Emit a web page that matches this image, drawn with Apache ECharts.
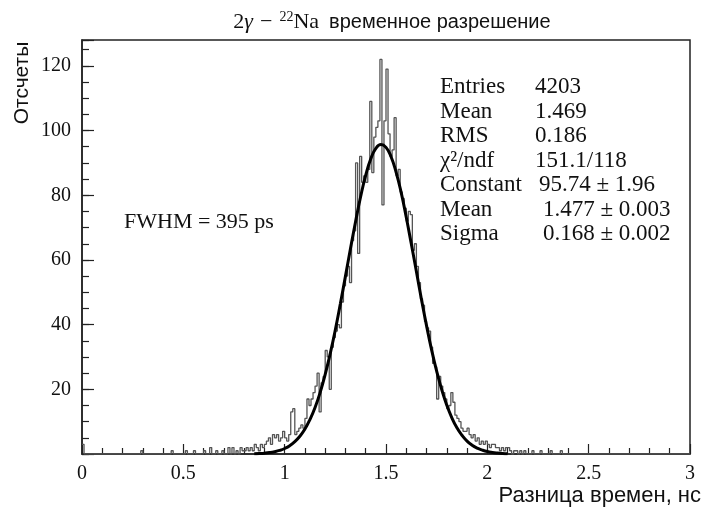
<!DOCTYPE html>
<html>
<head>
<meta charset="utf-8">
<script src="https://cdn.jsdelivr.net/npm/echarts@6/dist/echarts.min.js"></script>
<style>
  html, body { margin: 0; padding: 0; background: #fff; }
  #chart { width: 704px; height: 508px; }
</style>
</head>
<body>
<div id="chart"></div>
<script>
// histogram: 300 bins of 0.01 ns from 0 to 3
const binStart = 0;
const binWidth = 0.01;
const counts = [
  3, 0, 0, 0, 0, 0, 0, 0, 0, 0,
  0, 0, 0, 0, 0, 0, 0, 0, 0, 0,
  0, 0, 0, 0, 0, 0, 0, 0, 0, 1,
  0, 0, 0, 0, 0, 0, 0, 0, 0, 0,
  0, 0, 0, 0, 1, 0, 0, 0, 0, 0,
  0, 1, 0, 0, 0, 1, 0, 0, 0, 0,
  1, 0, 0, 2, 0, 0, 1, 0, 0, 1,
  0, 0, 2, 0, 2, 0, 1, 0, 2, 1,
  1, 2, 1, 2, 1, 3, 2, 1, 3, 2,
  3, 4, 5, 3, 6, 5, 6, 4, 5, 7,
  5, 4, 6, 13, 14, 6, 7, 8, 9, 8,
  11, 17, 15, 17, 19, 21, 25, 13, 22, 24,
  32, 30, 20, 33, 36, 38, 40, 39, 47, 52,
  55, 58, 53, 66, 69, 90, 62, 92, 84, 86,
  84, 88, 109, 87, 98, 101, 103, 122, 77, 103,
  119, 99, 92, 94, 104, 86, 88, 81, 79, 76,
  72, 75, 74, 63, 65, 58, 53, 48, 46, 41,
  39, 38, 33, 28, 27, 17, 24, 21, 19, 17,
  14, 15, 19, 16, 12, 11, 10, 8, 7, 7,
  8, 6, 5, 6, 4, 5, 3, 4, 3, 4,
  3, 2, 3, 3, 2, 2, 1, 2, 1, 2,
  2, 1, 0, 1, 1, 0, 1, 0, 1, 0,
  0, 0, 1, 0, 0, 0, 1, 0, 0, 0,
  0, 1, 0, 0, 0, 0, 1, 0, 0, 0,
  0, 0, 0, 0, 0, 0, 0, 0, 0, 0,
  0, 0, 0, 0, 0, 0, 0, 0, 0, 0,
  0, 0, 0, 0, 0, 0, 0, 0, 0, 0,
  0, 0, 0, 0, 0, 0, 0, 0, 0, 0,
  0, 0, 0, 0, 0, 0, 0, 0, 0, 0,
  0, 0, 0, 0, 0, 0, 0, 0, 0, 0
];

// fitted curve
const fitX = [0.85, 0.875, 0.9, 0.925, 0.95, 0.975, 1.0, 1.025, 1.05, 1.075, 1.1, 1.125, 1.15, 1.175,
  1.2, 1.225, 1.25, 1.275, 1.3, 1.325, 1.35, 1.375, 1.4, 1.425, 1.45, 1.475, 1.5, 1.525, 1.55,
  1.575, 1.6, 1.625, 1.65, 1.675, 1.7, 1.725, 1.75, 1.775, 1.8, 1.825, 1.85, 1.875, 1.9, 1.925,
  1.95, 1.975, 2.0, 2.025, 2.05, 2.075, 2.1];
const fitY = [0.09, 0.16, 0.26, 0.43, 0.7, 1.1, 1.7, 2.57, 3.8, 5.47, 7.7, 10.7, 14.4, 19.0,
  24.6, 31.1, 38.4, 46.5, 55.0, 63.6, 71.9, 79.6, 86.2, 91.3, 94.5, 95.7, 94.8, 91.9, 87.1,
  80.8, 73.2, 64.9, 56.4, 47.8, 39.7, 32.2, 25.6, 19.9, 15.1, 11.2, 8.1, 5.8, 4.0, 2.7,
  1.8, 1.2, 0.75, 0.47, 0.29, 0.17, 0.1];

const titleMain = '2';
const titleGamma = 'γ';
const titleMinus = '−';
const titleSup = '22';
const titleNa = 'Na';
const titleRu = 'временное разрешение';
const xName = 'Разница времен, нс';
const yName = 'Отсчеты';
const fwhmText = 'FWHM = 395 ps';
const statNames = ['Entries', 'Mean', 'RMS', 'χ²/ndf', 'Constant', 'Mean', 'Sigma'];
const statValues = ['4203', '1.469', '0.186', '151.1/118', '95.74 ± 1.96', '1.477 ± 0.003', '0.168 ± 0.002'];

const serif = '"Liberation Serif", "DejaVu Serif", serif';
const sans = '"Liberation Sans", Arial, sans-serif';

const histData = counts.map((c, i) => [binStart + i * binWidth, c]);
histData.push([binStart + counts.length * binWidth, counts[counts.length - 1]]);
const fitData = fitX.map((x, i) => [x, fitY[i]]);

const valueX = [535, 535, 535, 535, 539, 543, 543];
const graphics = [
  {
    type: 'text', x: 22, y: 83, rotation: Math.PI / 2,
    style: { text: yName, font: '21px ' + sans, fill: '#111', textAlign: 'center', textVerticalAlign: 'middle' }
  },
  {
    type: 'text', x: 701, y: 496,
    style: { text: xName, font: '22px ' + sans, fill: '#111', textAlign: 'right', textVerticalAlign: 'middle' }
  },
  {
    type: 'text', x: 124, y: 222,
    style: { text: fwhmText, font: '22px ' + serif, fill: '#111', textAlign: 'left', textVerticalAlign: 'middle' }
  }
];
statNames.forEach((n, i) => {
  graphics.push({
    type: 'text', x: 440, y: 87 + i * 24.5,
    style: { text: n, font: '23px ' + serif, fill: '#111', textAlign: 'left', textVerticalAlign: 'middle' }
  });
  graphics.push({
    type: 'text', x: valueX[i], y: 87 + i * 24.5,
    style: { text: statValues[i], font: '23px ' + serif, fill: '#111', textAlign: 'left', textVerticalAlign: 'middle' }
  });
});

const chart = echarts.init(document.getElementById('chart'));
chart.setOption({
  animation: false,
  backgroundColor: '#fff',
  title: {
    text: '{a|' + titleMain + '}{g|' + titleGamma + '}{m|' + titleMinus + '}{s|' + titleSup + '}{a|' + titleNa + '}  {b|' + titleRu + '}',
    left: 387,
    textAlign: 'center',
    top: 5,
    textStyle: {
      fontWeight: 'normal',
      rich: {
        a: { fontFamily: serif, fontSize: 22, fontWeight: 'normal', color: '#111', lineHeight: 24 },
        g: { fontFamily: serif, fontSize: 22, fontStyle: 'italic', fontWeight: 'normal', color: '#111', lineHeight: 24 },
        m: { fontFamily: serif, fontSize: 22, fontWeight: 'normal', color: '#111', lineHeight: 24, padding: [0, 7, 0, 7] },
        s: { fontFamily: serif, fontSize: 14, fontWeight: 'normal', color: '#111', verticalAlign: 'top', lineHeight: 24 },
        b: { fontFamily: sans, fontSize: 20, fontWeight: 'normal', color: '#111', lineHeight: 24 }
      }
    }
  },
  grid: {
    left: 82, right: 14, top: 40, bottom: 54,
    show: true, borderColor: '#222', borderWidth: 1.5, backgroundColor: 'transparent'
  },
  xAxis: {
    type: 'value', min: 0, max: 3, interval: 0.5,
    axisLine: { show: true, lineStyle: { color: '#222', width: 1.5 } },
    axisTick: { show: true, inside: true, length: 10, lineStyle: { color: '#222', width: 1.2 } },
    minorTick: { show: true, splitNumber: 5, length: 6, lineStyle: { color: '#222', width: 1.2 } },
    splitLine: { show: false },
    axisLabel: {
      margin: 10, fontFamily: serif, fontSize: 20, color: '#111',
      formatter: v => String(v)
    }
  },
  yAxis: [
    {
      type: 'value', min: 0, max: 128, interval: 20,
      axisLine: { show: true, lineStyle: { color: '#222', width: 1.5 } },
      axisTick: { show: true, inside: true, length: 12, lineStyle: { color: '#222', width: 1.2 } },
      splitLine: { show: false },
      axisLabel: {
        margin: 11, fontFamily: serif, fontSize: 20, color: '#111',
        formatter: v => (v > 0 && v % 20 === 0 ? String(v) : '')
      }
    },
    {
      type: 'value', min: 0, max: 128, interval: 5, position: 'left',
      axisLine: { show: false },
      axisTick: { show: true, inside: true, length: 7, lineStyle: { color: '#222', width: 1.2 } },
      splitLine: { show: false },
      axisLabel: { show: false }
    }
  ],
  series: [
    {
      type: 'line', data: histData, step: 'end', showSymbol: false, symbol: 'none',
      lineStyle: { color: '#555', width: 1.3 }, yAxisIndex: 0, z: 2
    },
    {
      type: 'line', data: fitData, smooth: true, showSymbol: false, symbol: 'none',
      lineStyle: { color: '#000', width: 3 }, yAxisIndex: 0, z: 3
    }
  ],
  graphic: graphics
});
</script>
</body>
</html>
